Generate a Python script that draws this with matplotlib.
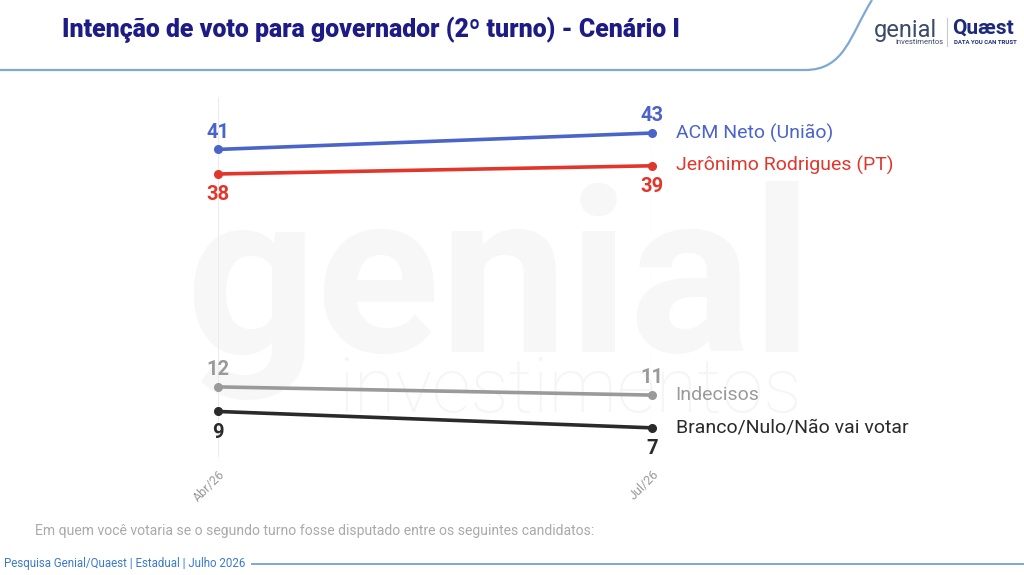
import matplotlib
matplotlib.use("Agg")
import matplotlib.pyplot as plt
from matplotlib.path import Path
from matplotlib.patches import PathPatch

plt.rcParams["font.family"] = ["Roboto", "DejaVu Sans"]

periods = ["Abr/26", "Jul/26"]
names = ["ACM Neto (União)", "Jerônimo Rodrigues (PT)", "Indecisos", "Branco/Nulo/Não vai votar"]
acm = [41, 43]
jeronimo = [38, 39]
indecisos = [12, 11]
branco = [9, 7]
colors = ["#4a64c9", "#e1362c", "#9a9a9a", "#2a2a2a"]
label_side = [1, -1, 1, -1]  # value label above (+1) or below (-1)

W, H = 1024, 575
fig = plt.figure(figsize=(W / 100, H / 100), dpi=100)
fig.patch.set_facecolor("white")


def px(x, y):
    return x / W, 1 - y / H


# watermark
fig.text(*px(185, 352), "genial", fontsize=165, color="#f7f7f7", fontweight="bold",
         ha="left", va="baseline", zorder=0)
fig.text(*px(338, 412), "investimentos", fontsize=55, color="#f5f5f5", fontweight="light",
         ha="left", va="baseline", zorder=0)

# header
fig.text(*px(62, 30), "Intenção de voto para governador (2º turno) - Cenário I",
         fontsize=17.9, fontweight="heavy", color="#1d1b86", ha="left", va="center")
verts = [px(0, 70), px(805, 70), px(845, 70), px(850, 35), px(872, 0)]
codes = [Path.MOVETO, Path.LINETO, Path.CURVE4, Path.CURVE4, Path.CURVE4]
fig.patches.append(PathPatch(Path(verts, codes), transform=fig.transFigure, fill=False,
                             edgecolor="#7ea8d6", lw=1.6))
fig.text(*px(874, 30), "genial", fontsize=17, color="#3b4a6b", ha="left", va="center")
fig.text(*px(895, 42), "investimentos", fontsize=5.5, color="#3b4a6b", ha="left", va="center")
fig.lines.append(plt.Line2D([947 / W, 947 / W], [1 - 18 / H, 1 - 46 / H], transform=fig.transFigure,
                            color="#c8c8c8", lw=0.8))
fig.text(*px(952, 28), "Quæst", fontsize=15, fontweight="bold", color="#1d2a7a", ha="left", va="center")
fig.text(*px(954, 42), "DATA YOU CAN TRUST", fontsize=4.3, fontweight="bold", color="#1d2a7a",
         ha="left", va="center")

# chart
ax = fig.add_axes([218 / W, 1 - 457 / H, (652 - 218) / W, 360 / H])
ax.set_zorder(2)
ax.set_facecolor("none")
x = list(range(len(periods)))
ax.set_xlim(0, 1)
ax.set_ylim(3.44, 47.4)
for xi in x:
    ax.axvline(xi, color="#ececec", lw=0.8, zorder=1)

for series, name, c, side in zip([acm, jeronimo, indecisos, branco], names, colors, label_side):
    ax.plot(x, series, color=c, lw=2.6, marker="o", ms=5.5, clip_on=False, zorder=3)
    offset = 12.5 if side > 0 else -15
    for xi, v in zip(x, series):
        ax.annotate(str(v), (xi, v), xytext=(0, offset), textcoords="offset points",
                    ha="center", va="center", fontsize=14.5, fontweight="bold", color=c)
    ax.annotate(name, (x[-1], series[-1]), xytext=(17, 0), textcoords="offset points",
                ha="left", va="center", fontsize=14, color=c, annotation_clip=False)

ax.set_xticks(x)
ax.set_xticklabels(periods, rotation=45, ha="right", rotation_mode="anchor",
                   fontsize=9, color="#9a9a9a")
ax.tick_params(axis="x", length=0, pad=8)
ax.set_yticks([])
for s in ax.spines.values():
    s.set_visible(False)

# footer
fig.text(*px(35, 531), "Em quem você votaria se o segundo turno fosse disputado entre os seguintes candidatos:",
         fontsize=10.1, color="#aaaaaa", ha="left", va="center")
fig.text(*px(4, 563), "Pesquisa Genial/Quaest | Estadual | Julho 2026", fontsize=8.3,
         color="#3a7bc8", ha="left", va="center")
fig.lines.append(plt.Line2D([252 / W, 1.0], [1 - 564 / H, 1 - 564 / H], transform=fig.transFigure,
                            color="#7ea8d6", lw=1.4))

fig.savefig("out.png", dpi=100)
